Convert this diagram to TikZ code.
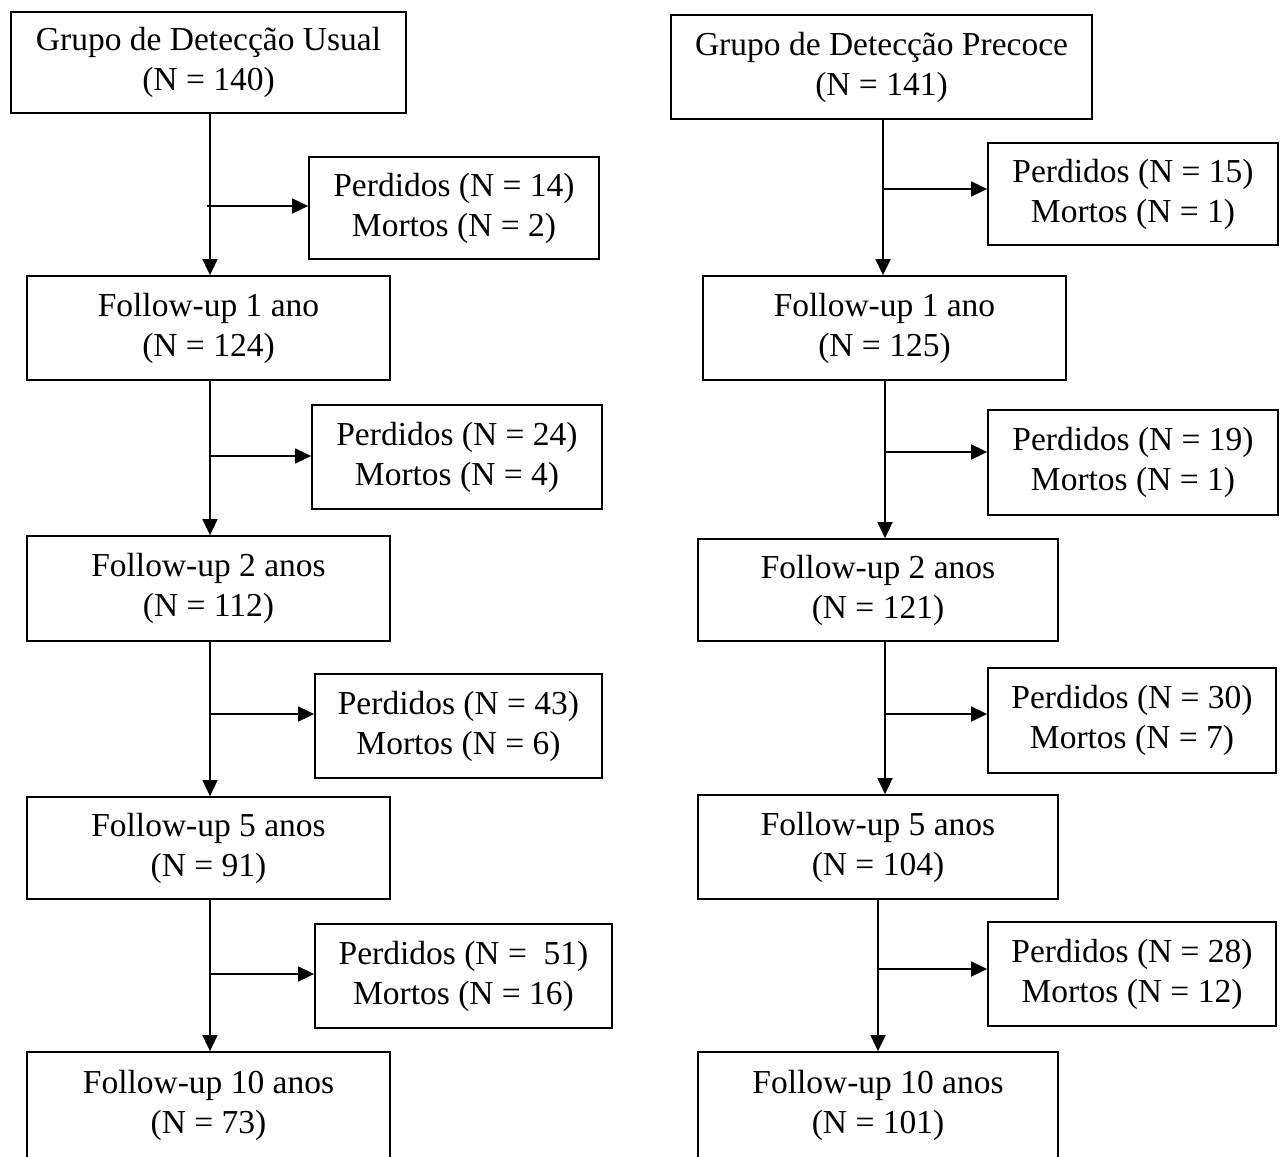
\documentclass[tikz,border=0pt]{standalone}
\usepackage{fontspec}
\setmainfont{Liberation Serif}
\usetikzlibrary{arrows.meta}
\begin{document}
\begin{tikzpicture}[x=1pt,y=-1pt,
  box/.style={draw, line width=1.8pt, inner sep=0pt, align=center,
    font=\fontsize{33.5}{40}\selectfont},
  conn/.style={line width=1.8pt, -{Triangle[length=16pt,width=15pt]}}]
\useasboundingbox (0,0) rectangle (1284,1156);
\clip (0,0) rectangle (1284,1156);
% ---------- left column ----------
\node[box, minimum width=395pt, minimum height=101pt] (L1) at (208.5,62.5)
  {Grupo de Detecção Usual\\(N = 140)};
\node[box, minimum width=290pt, minimum height=102pt] (LS1) at (454,208)
  {Perdidos (N = 14)\\Mortos (N = 2)};
\node[box, minimum width=363pt, minimum height=104pt] (L2) at (208.5,328)
  {Follow-up 1 ano\\(N = 124)};
\node[box, minimum width=290pt, minimum height=104pt] (LS2) at (457,457)
  {Perdidos (N = 24)\\Mortos (N = 4)};
\node[box, minimum width=363pt, minimum height=105pt] (L3) at (208.5,588.5)
  {Follow-up 2 anos\\(N = 112)};
\node[box, minimum width=287pt, minimum height=104pt] (LS3) at (458.5,726)
  {Perdidos (N = 43)\\Mortos (N = 6)};
\node[box, minimum width=363pt, minimum height=102pt] (L4) at (208.5,848)
  {Follow-up 5 anos\\(N = 91)};
\node[box, minimum width=297pt, minimum height=104pt] (LS4) at (463.5,976)
  {Perdidos (N =\ \ 51)\\Mortos (N = 16)};
\node[box, minimum width=363pt, minimum height=106pt] (L5) at (208.5,1105)
  {Follow-up 10 anos\\(N = 73)};
% ---------- right column ----------
\node[box, minimum width=421pt, minimum height=104pt] (R1) at (881.5,67)
  {Grupo de Detecção Precoce\\(N = 141)};
\node[box, minimum width=290pt, minimum height=102pt] (RS1) at (1133,194)
  {Perdidos (N = 15)\\Mortos (N = 1)};
\node[box, minimum width=363pt, minimum height=104pt] (R2) at (884.5,328)
  {Follow-up 1 ano\\(N = 125)};
\node[box, minimum width=290pt, minimum height=105pt] (RS2) at (1133,462.5)
  {Perdidos (N = 19)\\Mortos (N = 1)};
\node[box, minimum width=360pt, minimum height=102pt] (R3) at (878,590)
  {Follow-up 2 anos\\(N = 121)};
\node[box, minimum width=288pt, minimum height=105pt] (RS3) at (1132,720.5)
  {Perdidos (N = 30)\\Mortos (N = 7)};
\node[box, minimum width=360pt, minimum height=104pt] (R4) at (878,847)
  {Follow-up 5 anos\\(N = 104)};
\node[box, minimum width=288pt, minimum height=104pt] (RS4) at (1132,974)
  {Perdidos (N = 28)\\Mortos (N = 12)};
\node[box, minimum width=360pt, minimum height=106pt] (R5) at (878,1105)
  {Follow-up 10 anos\\(N = 101)};
% ---------- connector guides ----------
\coordinate (vL) at (210,0);
\coordinate (vR1) at (883,0);
\coordinate (vR2) at (885,0);
\coordinate (vR3) at (878,0);
\coordinate (hL1) at (207,206);
\coordinate (hL2) at (211,456);
\coordinate (hL3) at (210,714);
\coordinate (hL4) at (210,974);
\coordinate (hR1) at (884,189);
\coordinate (hR2) at (886,452);
\coordinate (hR3) at (886,714);
\coordinate (hR4) at (879,969);
% ---------- vertical arrows ----------
\draw[conn] (L1.south -| vL) -- (L2.north -| vL);
\draw[conn] (L2.south -| vL) -- (L3.north -| vL);
\draw[conn] (L3.south -| vL) -- (L4.north -| vL);
\draw[conn] (L4.south -| vL) -- (L5.north -| vL);
\draw[conn] (R1.south -| vR1) -- (R2.north -| vR1);
\draw[conn] (R2.south -| vR2) -- (R3.north -| vR2);
\draw[conn] (R3.south -| vR2) -- (R4.north -| vR2);
\draw[conn] (R4.south -| vR3) -- (R5.north -| vR3);
% ---------- side arrows ----------
\draw[conn] (hL1) -- (hL1 -| LS1.west);
\draw[conn] (hL2) -- (hL2 -| LS2.west);
\draw[conn] (hL3) -- (hL3 -| LS3.west);
\draw[conn] (hL4) -- (hL4 -| LS4.west);
\draw[conn] (hR1) -- (hR1 -| RS1.west);
\draw[conn] (hR2) -- (hR2 -| RS2.west);
\draw[conn] (hR3) -- (hR3 -| RS3.west);
\draw[conn] (hR4) -- (hR4 -| RS4.west);
\end{tikzpicture}
\end{document}
